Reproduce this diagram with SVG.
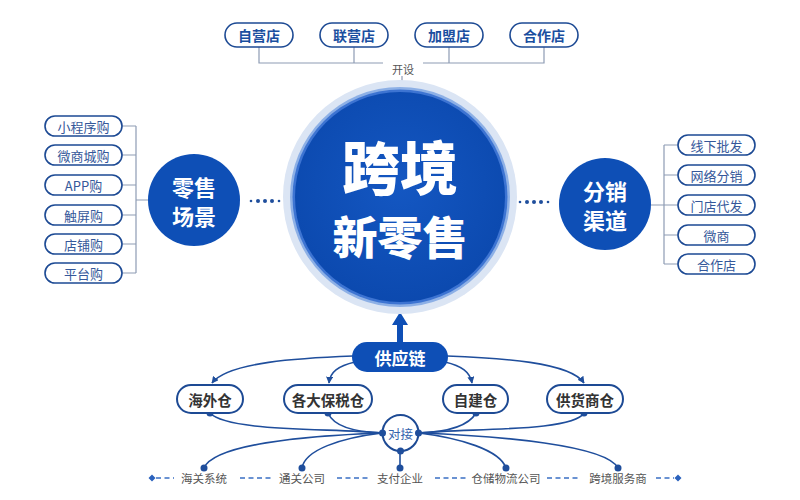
<svg xmlns="http://www.w3.org/2000/svg" width="800" height="500" viewBox="0 0 800 500">
<style>
text{font-family:"Noto Sans CJK SC","Noto Sans",sans-serif;text-anchor:middle;dominant-baseline:central}
.pill{fill:#fff;stroke:#1d4a94;stroke-width:1.6}
.pill2{fill:#fff;stroke:#1d4a94;stroke-width:2}
.tp{font-size:14px;font-weight:700;fill:#1b4f9f}
.sp{font-size:13px;fill:#35589a}
.bp{font-size:14.5px;font-weight:700;fill:#333}
.gl{fill:none;stroke:#8e9cb4;stroke-width:1.2}
.cv{fill:none;stroke:#1f4e9c;stroke-width:1.6}
.dot{fill:#1f4e9c}
.dash{stroke:#3a6fc4;stroke-width:1.4;stroke-dasharray:5 3.5}
.bt{font-size:11.5px;fill:#555}
.wt{fill:#fff;font-weight:700}
</style>
<defs>
<marker id="ah" viewBox="0 0 10 10" refX="9" refY="5" markerWidth="7" markerHeight="7" orient="auto" markerUnits="userSpaceOnUse">
<path d="M0,0 L10,5 L0,10 z" fill="#1f4e9c"/>
</marker>
<radialGradient id="cg" cx="0.5" cy="0.45" r="0.6">
<stop offset="0" stop-color="#1457c2"/>
<stop offset="1" stop-color="#0b48ad"/>
</radialGradient>
</defs>
<rect width="800" height="500" fill="#fff"/>

<g id="connectors">
<path class="gl" d="M259,47 V63 H383 M423,63 H544 V47 M354,47 V63 M449,47 V63 M402,76 V81"/>
<path class="gl" d="M122,126 H136 M122,155 H136 M122,185 H136 M122,215 H136 M122,244 H136 M122,273 H136 M136,126 V273 M136,200 H149"/>
<path class="gl" d="M678,145 H664 M678,175 H664 M678,205 H664 M678,235 H664 M678,264 H664 M664,145 V264 M650,205 H664"/>
<g class="dot">
<circle cx="251" cy="201" r="1.3"/><circle cx="258" cy="201" r="2"/><circle cx="265" cy="201" r="2"/><circle cx="272" cy="201" r="2"/><circle cx="279" cy="201" r="1.3"/>
<circle cx="520" cy="202" r="1.3"/><circle cx="527" cy="202" r="2"/><circle cx="534" cy="202" r="2"/><circle cx="541" cy="202" r="2"/><circle cx="548" cy="202" r="1.3"/>
</g>
<path d="M397,343 V325 H392 L400,312 L408,325 H403 V343 z" fill="#0e4fb6"/>
<path class="cv" marker-end="url(#ah)" d="M353,356 C300,358 228,362 212,383"/>
<path class="cv" marker-end="url(#ah)" d="M355,362 C338,366 330,372 329,383"/>
<path class="cv" marker-end="url(#ah)" d="M445,362 C462,366 470,372 472,383"/>
<path class="cv" marker-end="url(#ah)" d="M447,356 C500,358 570,362 584,383"/>
<path class="cv" d="M210,413 C228,432 330,428 382,433"/>
<path class="cv" d="M328,413 C334,427 355,432 382,433"/>
<path class="cv" d="M382,433 C300,436 214,445 204,468"/>
<path class="cv" d="M382,433 C340,438 305,450 302,468"/>
<path class="cv" d="M419,433 C446,432 468,427 476,413"/>
<path class="cv" d="M419,433 C470,428 572,432 584,413"/>
<path class="cv" d="M419,433 C460,438 500,450 506,468"/>
<path class="cv" d="M419,433 C500,436 606,445 618,468"/>
<path class="cv" d="M400,451 V468"/>
<g class="dot">
<circle cx="210" cy="413" r="3.5"/><circle cx="328" cy="413" r="3.5"/><circle cx="476" cy="413" r="3.5"/><circle cx="584" cy="413" r="3.5"/>
<circle cx="204" cy="468" r="3.5"/><circle cx="302" cy="468" r="3.5"/><circle cx="400" cy="468" r="3.5"/><circle cx="506" cy="468" r="3.5"/><circle cx="618" cy="468" r="3.5"/>
</g>
<path class="dash" d="M156,478 H174 M240,478 H272 M337,478 H369 M435,478 H467 M547,478 H579 M656,478 H674"/>
<path d="M152,474.5 L155.5,478 L152,481.5 L148.5,478 z M678,474.5 L681.5,478 L678,481.5 L674.5,478 z" fill="#2b62bd"/>
</g>

<g id="top-pills">
<g id="n-ziying"><rect class="pill" x="225" y="23" width="68" height="24" rx="12"/><text class="tp" x="259" y="35">自营店</text></g>
<g id="n-lianying"><rect class="pill" x="320" y="23" width="68" height="24" rx="12"/><text class="tp" x="354" y="35">联营店</text></g>
<g id="n-jiameng"><rect class="pill" x="415" y="23" width="68" height="24" rx="12"/><text class="tp" x="449" y="35">加盟店</text></g>
<g id="n-hezuo-top"><rect class="pill" x="510" y="23" width="68" height="24" rx="12"/><text class="tp" x="544" y="35">合作店</text></g>
<g id="n-kaishe"><text x="403" y="69" style="font-size:11px;fill:#555">开设</text></g>
</g>

<g id="n-center">
<circle cx="400" cy="197" r="117" fill="#dbe5f4"/>
<circle cx="400" cy="197" r="110" fill="#8db0e6"/>
<circle cx="400" cy="197" r="107.5" fill="#3d74d2"/>
<circle cx="400" cy="197" r="105" fill="url(#cg)"/>
<text class="wt" x="400" y="165" style="font-size:58px;font-weight:900">跨境</text>
<text class="wt" x="400" y="235" style="font-size:45px;font-weight:900">新零售</text>
</g>

<g id="n-retail">
<circle cx="194" cy="200" r="46" fill="#0e4fb6"/>
<text class="wt" x="194" y="186" style="font-size:22px">零售</text>
<text class="wt" x="194" y="215" style="font-size:22px">场景</text>
</g>
<g id="left-pills">
<g id="n-l1"><rect class="pill" x="45" y="116" width="77" height="20" rx="10"/><text class="sp" x="83.5" y="126">小程序购</text></g>
<g id="n-l2"><rect class="pill" x="45" y="145" width="77" height="20" rx="10"/><text class="sp" x="83.5" y="155">微商城购</text></g>
<g id="n-l3"><rect class="pill" x="45" y="175" width="77" height="20" rx="10"/><text class="sp" x="83.5" y="185">APP购</text></g>
<g id="n-l4"><rect class="pill" x="45" y="205" width="77" height="20" rx="10"/><text class="sp" x="83.5" y="215">触屏购</text></g>
<g id="n-l5"><rect class="pill" x="45" y="234" width="77" height="20" rx="10"/><text class="sp" x="83.5" y="244">店铺购</text></g>
<g id="n-l6"><rect class="pill" x="45" y="263" width="77" height="20" rx="10"/><text class="sp" x="83.5" y="273">平台购</text></g>
</g>

<g id="n-channel">
<circle cx="605" cy="204" r="46" fill="#0e4fb6"/>
<text class="wt" x="605" y="190" style="font-size:22px">分销</text>
<text class="wt" x="605" y="219" style="font-size:22px">渠道</text>
</g>
<g id="right-pills">
<g id="n-r1"><rect class="pill" x="678" y="135" width="77" height="20" rx="10"/><text class="sp" x="716.5" y="145">线下批发</text></g>
<g id="n-r2"><rect class="pill" x="678" y="165" width="77" height="20" rx="10"/><text class="sp" x="716.5" y="175">网络分销</text></g>
<g id="n-r3"><rect class="pill" x="678" y="195" width="77" height="20" rx="10"/><text class="sp" x="716.5" y="205">门店代发</text></g>
<g id="n-r4"><rect class="pill" x="678" y="225" width="77" height="20" rx="10"/><text class="sp" x="716.5" y="235">微商</text></g>
<g id="n-r5"><rect class="pill" x="678" y="254" width="77" height="20" rx="10"/><text class="sp" x="716.5" y="264">合作店</text></g>
</g>

<g id="n-supply">
<rect x="352" y="342" width="96" height="30" rx="15" fill="#0e4fb6"/>
<text class="wt" x="400" y="357" style="font-size:17px">供应链</text>
</g>
<g id="warehouses">
<g id="n-haiwai"><rect class="pill2" x="177" y="385" width="66" height="28" rx="14"/><text class="bp" x="210" y="399">海外仓</text></g>
<g id="n-baoshui"><rect class="pill2" x="284" y="385" width="88" height="28" rx="14"/><text class="bp" x="328" y="399">各大保税仓</text></g>
<g id="n-zijian"><rect class="pill2" x="443" y="385" width="65" height="28" rx="14"/><text class="bp" x="475.5" y="399">自建仓</text></g>
<g id="n-gonghuo"><rect class="pill2" x="547" y="385" width="76" height="28" rx="14"/><text class="bp" x="585" y="399">供货商仓</text></g>
</g>
<g id="n-duijie">
<circle cx="400.5" cy="433" r="18" fill="#fff" stroke="#1d4a94" stroke-width="2"/>
<text x="400.5" y="433" style="font-size:12.5px;fill:#3563ad">对接</text>
<g class="dot"><circle cx="382.5" cy="433" r="3.5"/><circle cx="418.5" cy="433" r="3.5"/><circle cx="400.5" cy="451" r="3.5"/></g>
</g>
<g id="bottom-row">
<text class="bt" x="204" y="478">海关系统</text>
<text class="bt" x="302" y="478">通关公司</text>
<text class="bt" x="400" y="478">支付企业</text>
<text class="bt" x="506" y="478">仓储物流公司</text>
<text class="bt" x="618" y="478">跨境服务商</text>
</g>
</svg>
